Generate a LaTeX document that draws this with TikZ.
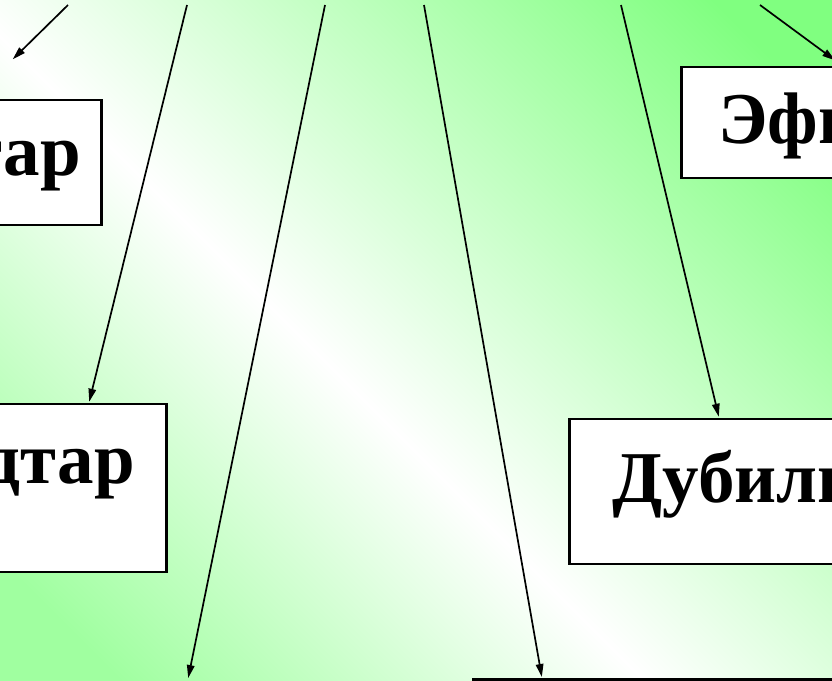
\documentclass[tikz,border=0pt]{standalone}
\usepackage{fontspec}
\setmainfont{Liberation Serif}
\usetikzlibrary{arrows.meta}
\definecolor{greentr}{RGB}{128,255,128}
\definecolor{greenbl}{RGB}{160,255,160}
\tikzset{
  topic/.style={draw, line width=2.6pt, fill=white, inner ysep=0pt,
    font=\fontsize{73}{84}\selectfont\bfseries},
  link/.style={line width=1.7pt, shorten >=1pt, -{Triangle[length=13pt,width=7.5pt]}}
}
\begin{document}
\begin{tikzpicture}[x=1pt,y=-1pt]
   \useasboundingbox (0,0) rectangle (832,680);
   \clip (0,0) rectangle (832,680);
   \begin{scope}[transform canvas={rotate around={45:(416,340)}}]
     \fill[greenbl] (-700,-600) rectangle (-33,1300);
     \shade[left color=greenbl, right color=white] (-34,-600) rectangle (337,1300);
     \shade[left color=white, right color=greentr] (336,-600) rectangle (867,1300);
     \fill[greentr] (866,-600) rectangle (1500,1300);
   \end{scope}

   \node[topic, anchor=base east, inner xsep=21pt, text height=75pt, text depth=50pt] (tar) at (103,175) {тар};
   \node[topic, anchor=base east, inner xsep=32pt, text height=79pt, text depth=89pt] (alk) at (168,483) {дтар};
   \node[topic, anchor=base west, inner xsep=37pt, text height=76pt, text depth=35pt] (efi) at (680,143) {Эфи};
   \node[topic, anchor=base west, inner xsep=43pt, text height=83pt, text depth=62pt] (dub) at (568,502) {Дубиль};
   \node[topic, anchor=north west, minimum width=420pt, minimum height=60pt] (low) at (472,678) {};

   \coordinate (s1) at (68,5);
   \coordinate (s2) at (187,5);
   \coordinate (s3) at (325,5);
   \coordinate (s4) at (424,5);
   \coordinate (s5) at (621,5);
   \coordinate (s6) at (760,5);
   \coordinate (e1) at (12,60);
   \coordinate (e3) at (188,679);
   \coordinate (e6) at (836,61);

   \draw[link] (s1) -- (e1);
   \draw[link] (s2) -- (89,0 |- alk.north);
   \draw[link] (s3) -- (e3);
   \draw[link] (s4) -- (542,0 |- low.north);
   \draw[link] (s5) -- (719,0 |- dub.north);
   \draw[link] (s6) -- (e6);
\end{tikzpicture}
\end{document}
